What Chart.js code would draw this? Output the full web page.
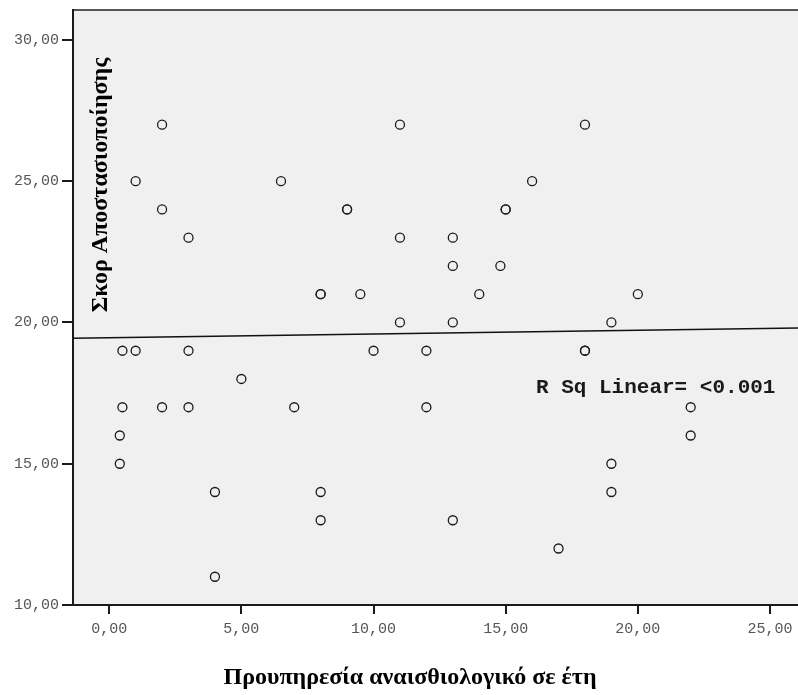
<!DOCTYPE html>
<html>
<head>
<meta charset="utf-8">
<script src="https://cdn.jsdelivr.net/npm/chart.js@4.4.1/dist/chart.umd.min.js"></script>
<style>
  html, body { margin: 0; padding: 0; background: #ffffff; }
  #wrap { width: 798px; height: 695px; }
</style>
</head>
<body>
<div id="wrap"><canvas id="scatterChart" width="798" height="695"></canvas></div>
<script>
// ===================================
// DATA
// ===================================
// Years of service in anaesthesiology (x) and detachment score (y), one entry per respondent
const experienceYears = [
    2, 11, 18,
    1, 6.5, 16,
    2, 9, 9, 15, 15,
    3, 11, 13,
    13, 14.8,
    8, 8, 9.5, 14, 20,
    11, 13, 19,
    0.5, 1, 3, 10, 12, 18, 18,
    5,
    0.5, 2, 3, 7, 12, 22,
    0.4, 22,
    0.4, 19,
    4, 8, 19,
    8, 13,
    17,
    4
];
const detachmentScore = [
    27, 27, 27,
    25, 25, 25,
    24, 24, 24, 24, 24,
    23, 23, 23,
    22, 22,
    21, 21, 21, 21, 21,
    20, 20, 20,
    19, 19, 19, 19, 19, 19, 19,
    18,
    17, 17, 17, 17, 17, 17,
    16, 16,
    15, 15,
    14, 14, 14,
    13, 13,
    12,
    11
];

const xTickValues = [0, 5, 10, 15, 20, 25];
const yTickValues = [10, 15, 20, 25, 30];
const xRange = [-1.37, 26.06];
const yRange = [10, 31.06];

const rSquaredLabel = 'R Sq Linear= <0.001';
const xTitle = 'Προυπηρεσία αναισθιολογικό σε έτη';
const yTitle = 'Σκορ Αποστασιοποίησης';

// ===================================
// LEAST SQUARES FIT
// ===================================
const n = experienceYears.length;
const meanX = experienceYears.reduce((a, b) => a + b, 0) / n;
const meanY = detachmentScore.reduce((a, b) => a + b, 0) / n;
let sxy = 0, sxx = 0;
for (let i = 0; i < n; i++) {
    sxy += (experienceYears[i] - meanX) * (detachmentScore[i] - meanY);
    sxx += (experienceYears[i] - meanX) ** 2;
}
const slope = sxy / sxx;
const intercept = meanY - slope * meanX;
const fitLine = xRange.map(x => ({ x: x, y: intercept + slope * x }));

const points = experienceYears.map((x, i) => ({ x: x, y: detachmentScore[i] }));

// comma decimal, two places
const fmt = v => v.toFixed(2).replace('.', ',');

// ===================================
// PLUGINS
// ===================================
// grey plot background plus the top frame line
const plotFrame = {
    id: 'plotFrame',
    beforeDraw(chart) {
        const { ctx, chartArea: a } = chart;
        ctx.save();
        ctx.fillStyle = '#f0f0f0';
        ctx.fillRect(a.left, a.top, a.right - a.left, a.bottom - a.top);
        ctx.strokeStyle = '#555555';
        ctx.lineWidth = 2;
        ctx.beginPath();
        ctx.moveTo(a.left, a.top);
        ctx.lineTo(a.right, a.top);
        ctx.stroke();
        ctx.restore();
    }
};

// axis titles and the fit label
const plotText = {
    id: 'plotText',
    afterDatasetsDraw(chart) {
        const { ctx } = chart;
        ctx.save();
        ctx.fillStyle = '#000000';
        ctx.font = 'bold 24px "Liberation Serif", "Times New Roman", serif';
        ctx.translate(101, 185);
        ctx.rotate(-Math.PI / 2);
        ctx.textAlign = 'center';
        ctx.textBaseline = 'middle';
        ctx.fillText(yTitle, 0, 0);
        ctx.restore();

        ctx.save();
        ctx.fillStyle = '#000000';
        ctx.font = 'bold 24px "Liberation Serif", "Times New Roman", serif';
        ctx.textAlign = 'center';
        ctx.textBaseline = 'middle';
        ctx.fillText(xTitle, 410, 678);
        ctx.restore();

        ctx.save();
        ctx.fillStyle = '#1a1a1a';
        ctx.font = 'bold 21px "Liberation Mono", "Courier New", monospace';
        ctx.textAlign = 'left';
        ctx.textBaseline = 'middle';
        ctx.fillText(rSquaredLabel, 536, 388);
        ctx.restore();
    }
};

// ===================================
// CHART CONFIG
// ===================================
const scatterConfig = {
    type: 'scatter',
    data: {
        datasets: [
            {
                label: 'Observed',
                data: points,
                pointStyle: 'circle',
                pointRadius: 4.5,
                pointBorderWidth: 1.3,
                pointBorderColor: '#1a1a1a',
                pointBackgroundColor: 'rgba(0,0,0,0)',
                pointHoverRadius: 4.5
            },
            {
                type: 'line',
                label: 'Linear',
                data: fitLine,
                borderColor: '#111111',
                borderWidth: 1.5,
                pointRadius: 0,
                fill: false
            }
        ]
    },
    options: {
        responsive: false,
        animation: false,
        events: [],
        layout: { autoPadding: false, padding: { top: 10, right: 0, left: 0, bottom: 0 } },
        plugins: {
            legend: { display: false },
            tooltip: { enabled: false }
        },
        scales: {
            x: {
                type: 'linear',
                min: xRange[0],
                max: xRange[1],
                afterFit: scale => {
                    scale.height = 90;
                    scale.paddingLeft = 0;
                    scale.paddingRight = 0;
                },
                afterBuildTicks: scale => { scale.ticks = xTickValues.map(v => ({ value: v })); },
                border: { display: true, color: '#1a1a1a', width: 2 },
                grid: { drawOnChartArea: false, drawTicks: true, tickLength: 9, color: '#1a1a1a', lineWidth: 2 },
                ticks: {
                    padding: 6,
                    color: '#555555',
                    font: { family: '"Liberation Mono", "Courier New", monospace', size: 15 },
                    callback: v => fmt(v)
                }
            },
            y: {
                type: 'linear',
                min: yRange[0],
                max: yRange[1],
                afterFit: scale => {
                    scale.width = 73;
                    scale.paddingTop = 0;
                    scale.paddingBottom = 0;
                },
                afterBuildTicks: scale => { scale.ticks = yTickValues.map(v => ({ value: v })); },
                border: { display: true, color: '#1a1a1a', width: 2 },
                grid: { drawOnChartArea: false, drawTicks: true, tickLength: 11, color: '#1a1a1a', lineWidth: 2 },
                ticks: {
                    padding: 3,
                    color: '#555555',
                    font: { family: '"Liberation Mono", "Courier New", monospace', size: 15 },
                    callback: v => fmt(v)
                }
            }
        }
    },
    plugins: [plotFrame, plotText]
};

// --- Render Chart ---
const ctxScatter = document.getElementById('scatterChart').getContext('2d');
new Chart(ctxScatter, scatterConfig);
</script>
</body>
</html>
